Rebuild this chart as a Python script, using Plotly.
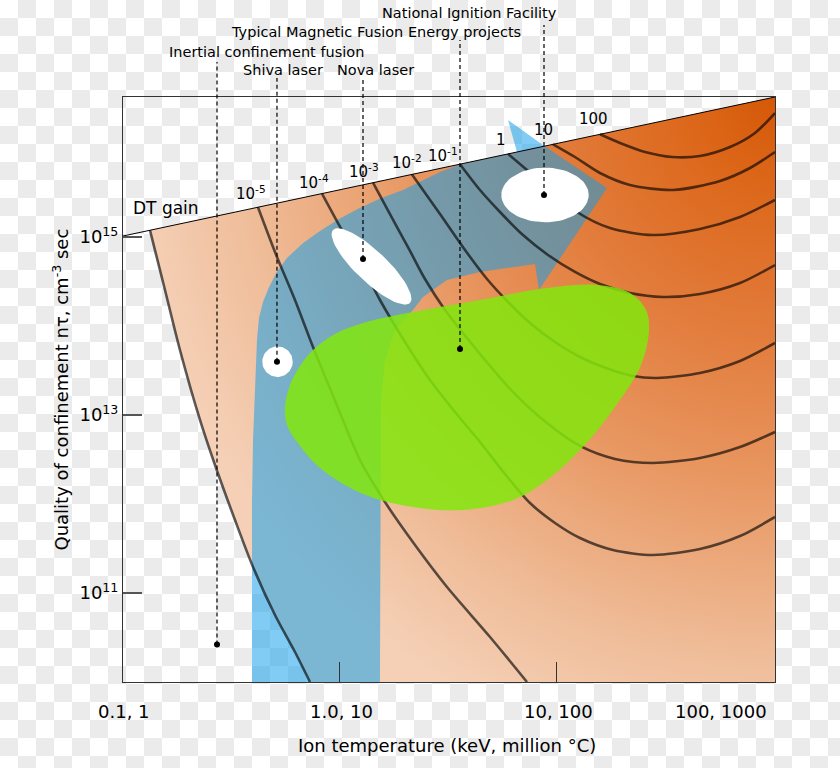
import base64
import numpy as np
import plotly.graph_objects as go

FONT = "DejaVu Sans"

# ---------------- axis ranges (log10 units) ----------------
X_RANGE = [-1.0046, 2.0139]    # ion temperature, keV
Y_RANGE = [10.0, 16.573]       # n*tau, cm^-3 s

# ---------------- data ----------------
# temperatures in keV, confinement given as log10(n*tau)
DT_GAIN_T = [0.0989, 103.25]
DT_GAIN_LOGNT = [15.011, 16.573]

EDGE_T = [0.1319, 0.1548, 0.1816, 0.2248, 0.2638, 0.3265, 0.3957, 0.5000, 0.6189, 0.7262]
EDGE_LOGNT = [15.076, 14.404, 13.730, 12.944, 12.438, 11.820, 11.292, 10.753, 10.337, 10.000]

BLUE_T = [0.3915, 0.3915, 0.3957, 0.4041, 0.4128, 0.4216, 0.4401, 0.4653, 0.5063, 0.5683,
          0.6752, 0.8082, 0.9896, 1.2088, 1.5165, 1.9573, 2.9040, 3.5938, 6.5988, 5.9948,
          8.8951, 17.224, 8.344, 7.9949, 4.4475, 3.1290, 2.4225, 2.1777, 1.7970, 1.6155,
          1.5476, 1.5311]
BLUE_LOGNT = [10.000, 12.045, 12.719, 13.393, 13.843, 14.090, 14.270, 14.416, 14.596, 14.764,
              14.933, 15.067, 15.202, 15.315, 15.427, 15.528, 15.730, 15.815, 15.955, 16.315,
              16.017, 15.551, 14.404, 14.697, 14.607, 14.517, 14.326, 14.180, 13.955, 13.618,
              13.169, 10.000]

GREEN_T = [0.5564, 0.5868, 0.6531, 0.7499, 0.9481, 1.2780, 2.1777, 4.4475, 9.0862, 15.480,
           22.012, 26.10, 26.95, 24.75, 18.755, 13.196, 9.0862, 6.3233, 3.7104, 2.1777,
           1.2780, 0.8082, 0.6323, 0.5683, 0.5564]
GREEN_LOGNT = [13.090, 13.337, 13.551, 13.730, 13.910, 14.034, 14.157, 14.292, 14.427, 14.461,
               14.371, 14.180, 13.955, 13.562, 13.090, 12.629, 12.270, 12.045, 11.933, 11.966,
               12.112, 12.404, 12.697, 12.888, 13.090]

# DT gain contours
Q5_T = [0.4172, 0.5108, 0.6189, 0.7499, 0.9583, 1.2373, 1.6155, 2.2245, 3.1290, 4.9492, 7.3410]
Q5_LOGNT = [15.335, 14.775, 14.292, 13.764, 13.135, 12.494, 12.022, 11.539, 11.067, 10.506, 10.000]

Q4_T = [0.8254, 0.9789, 1.2373, 1.5311, 2.000, 2.610, 3.408, 4.4475, 5.8066, 7.5798, 9.894,
        12.915, 18.363, 28.123, 46.416, 71.11, 103.25]
Q4_LOGNT = [15.488, 15.157, 14.719, 14.292, 13.820, 13.393, 13.034, 12.697, 12.337, 12.011, 11.787,
            11.618, 11.483, 11.427, 11.494, 11.640, 11.854]

Q3_T = [1.4219, 1.7035, 2.1093, 2.4746, 3.0627, 3.8723, 4.9492, 6.3233, 9.0862, 12.915, 18.755,
        28.123, 46.416, 71.11, 103.25]
Q3_LOGNT = [15.610, 15.258, 14.843, 14.528, 14.180, 13.865, 13.551, 13.258, 12.910, 12.652, 12.506,
            12.461, 12.517, 12.640, 12.809]

Q2_T = [2.1544, 2.9040, 3.7910, 4.7925, 6.1240, 7.5798, 9.894, 12.915, 17.042, 22.727, 29.346,
        46.416, 71.11, 103.25]
Q2_LOGNT = [15.703, 15.258, 14.854, 14.528, 14.247, 14.034, 13.820, 13.652, 13.528, 13.438, 13.416,
            13.472, 13.607, 13.809]

Q1_T = [3.5938, 4.4475, 5.5048, 7.0346, 9.1833, 12.246, 15.984, 22.012, 31.284, 46.416, 71.11, 103.25]
Q1_LOGNT = [15.818, 15.528, 15.281, 15.022, 14.798, 14.607, 14.472, 14.371, 14.326, 14.360, 14.483, 14.685]

QP0_T = [5.9948, 7.3410, 9.1833, 12.512, 17.783, 28.123, 46.416, 71.11, 103.25]
QP0_LOGNT = [15.934, 15.753, 15.551, 15.281, 15.101, 15.022, 15.090, 15.225, 15.416]

QP1_T = [9.6855, 12.246, 15.984, 22.012, 34.806, 57.440, 79.08, 103.25]
QP1_LOGNT = [16.042, 15.899, 15.719, 15.584, 15.528, 15.629, 15.775, 15.955]

QP2_T = [15.984, 19.788, 25.83, 34.435, 46.416, 63.91, 83.44, 103.25]
QP2_LOGNT = [16.154, 16.056, 15.955, 15.899, 15.910, 16.011, 16.169, 16.393]

CONTOURS_T = [EDGE_T, Q5_T, Q4_T, Q3_T, Q2_T, Q1_T, QP0_T, QP1_T, QP2_T]
CONTOURS_LOGNT = [EDGE_LOGNT, Q5_LOGNT, Q4_LOGNT, Q3_LOGNT, Q2_LOGNT, Q1_LOGNT, QP0_LOGNT, QP1_LOGNT, QP2_LOGNT]
CONTOUR_LABELS = ["10<sup>-5</sup>", "10<sup>-4</sup>", "10<sup>-3</sup>", "10<sup>-2</sup>",
                  "10<sup>-1</sup>", "1", "10", "100"]

# experiments: ellipses (centre keV, centre log n*tau, two half-axis vectors in decades)
NIF_ELL = [8.8951, 15.472, (0.2023, 0.0), (0.0, 0.3067)]
NOVA_ELL = [1.399, 14.669, (0.178, -0.410), (0.0494, 0.1264)]
SHIVA_ELL = [0.5136, 13.599, (0.0704, 0.0), (0.0, 0.172)]

FAC_NAMES = ["Inertial confinement fusion", "Shiva laser", "Nova laser",
             "Typical Magnetic Fusion Energy projects", "National Ignition Facility"]
FAC_T = [0.2695, 0.5108, 1.2780, 3.5938, 8.7998]
FAC_LOGNT = [10.421, 13.599, 14.753, 13.742, 15.472]

X_TICK_TEXT = ["0.1, 1", "1.0, 10", "10, 100", "100, 1000"]
Y_TICK_VALS = [1e11, 1e13, 1e15]
Y_TICK_TEXT = ["10<sup>11</sup>", "10<sup>13</sup>", "10<sup>15</sup>"]

# ---------------- helpers ----------------
def px(logx):
    return (logx - X_RANGE[0]) / (X_RANGE[1] - X_RANGE[0])

def py(logy):
    return (logy - Y_RANGE[0]) / (Y_RANGE[1] - Y_RANGE[0])

def pow10(a):
    return list(10 ** np.asarray(a, dtype=float))

fig = go.Figure()

# ---- orange region with radial gradient centred on the top-right corner ----
GRAD_RX, GRAD_RY = 3.01, 7.64   # decades (gradient radius)
cx, cy = X_RANGE[1], Y_RANGE[1]
ox = list(EDGE_T) + [10 ** (cx - GRAD_RX), 10 ** (cx + GRAD_RX), 10 ** (cx + GRAD_RX), 10 ** cx, 10 ** cx]
oy = list(10 ** np.array(EDGE_LOGNT)) + [10 ** (cy - GRAD_RY), 10 ** (cy - GRAD_RY), 10 ** (cy + GRAD_RY),
                                         10 ** (cy + GRAD_RY), 10 ** cy]
fig.add_trace(go.Scatter(
    x=ox, y=oy, mode="lines", line=dict(width=0, simplify=False), fill="toself",
    fillgradient=dict(type="radial", colorscale=[
        [0.0, "rgb(212,88,8)"], [0.12, "rgb(220,102,24)"], [0.35, "rgb(226,124,60)"],
        [0.56, "rgb(232,150,96)"], [0.82, "rgb(239,188,152)"], [0.97, "rgb(244,205,178)"],
        [1.0, "rgb(245,208,182)"]]),
    hoverinfo="skip", showlegend=False))

# ---- blue (magnetic confinement) region ----
fig.add_trace(go.Scatter(
    x=BLUE_T, y=pow10(BLUE_LOGNT), mode="lines", line=dict(width=0), fill="toself",
    fillcolor="rgba(15,158,236,0.53)", hoverinfo="skip", showlegend=False))

# ---- gain contours ----
for ct, cn in zip(CONTOURS_T, CONTOURS_LOGNT):
    fig.add_trace(go.Scatter(
        x=ct, y=pow10(cn), mode="lines",
        line=dict(color="rgba(0,0,0,0.63)", width=2.6, shape="spline", smoothing=0.8),
        hoverinfo="skip", showlegend=False))

# ---- green (inertial confinement) region ----
fig.add_trace(go.Scatter(
    x=GREEN_T, y=pow10(GREEN_LOGNT), mode="lines", line=dict(width=0, shape="spline", smoothing=1.0),
    fill="toself", fillcolor="rgba(130,230,13,0.86)", hoverinfo="skip", showlegend=False))

# ---- white ellipses of the experiments ----
tt = np.linspace(0, 2 * np.pi, 73)
for c_t, c_n, a, b in [NIF_ELL, NOVA_ELL, SHIVA_ELL]:
    lx = np.log10(c_t) + a[0] * np.cos(tt) + b[0] * np.sin(tt)
    ly = c_n + a[1] * np.cos(tt) + b[1] * np.sin(tt)
    fig.add_trace(go.Scatter(x=10 ** lx, y=10 ** ly, mode="lines", line=dict(width=0),
                             fill="toself", fillcolor="white", hoverinfo="skip", showlegend=False))

# ---- DT gain boundary line ----
fig.add_trace(go.Scatter(x=DT_GAIN_T, y=pow10(DT_GAIN_LOGNT), mode="lines",
                         line=dict(color="black", width=1), hoverinfo="skip", showlegend=False))

# ---- experiment markers ----
fig.add_trace(go.Scatter(x=FAC_T, y=pow10(FAC_LOGNT), mode="markers",
                         marker=dict(color="black", size=6), cliponaxis=False,
                         hoverinfo="skip", showlegend=False))

# ---------------- annotations / shapes ----------------
annotations = []
shapes = []

LABEL_TOP = [1.0598, 1.0325, 1.0325, 1.0974, 1.1231]         # paper y where dashes end
LABEL_POS = [(0.2201, 1.0764), (0.2454, 1.0462), (0.3871, 1.0462), (0.3874, 1.1106), (0.5321, 1.1436)]
for name, t, n, top, (lx_, ly_) in zip(FAC_NAMES, FAC_T, FAC_LOGNT, LABEL_TOP, LABEL_POS):
    xp = px(np.log10(t))
    shapes.append(dict(type="line", xref="paper", yref="paper", x0=xp, x1=xp, y0=py(n), y1=top,
                       line=dict(color="black", width=1.2, dash="4px,3px")))
    annotations.append(dict(text=name, xref="paper", yref="paper", x=lx_, y=ly_, showarrow=False,
                            xanchor="center", yanchor="middle",
                            font=dict(family=FONT, size=14.5, color="black")))

CONTOUR_LABEL_POS = [(0.1963, 0.8359), (0.2929, 0.8547), (0.3696, 0.8735), (0.4356, 0.8889),
                     (0.4908, 0.9009), (0.5798, 0.9265), (0.6457, 0.9436), (0.7209, 0.9624)]
for lab, (xx, yy) in zip(CONTOUR_LABELS, CONTOUR_LABEL_POS):
    annotations.append(dict(text=lab, xref="paper", yref="paper", x=xx, y=yy, showarrow=False,
                            xanchor="center", yanchor="middle",
                            font=dict(family=FONT, size=15, color="black")))

annotations.append(dict(text="DT gain", xref="paper", yref="paper", x=0.0660, y=0.8103, showarrow=False,
                        xanchor="center", yanchor="middle", font=dict(family=FONT, size=17, color="black")))

X_TICK_POS = [0.0015, 0.3344, 0.6672, 0.9172]
for lab, xx in zip(X_TICK_TEXT, X_TICK_POS):
    annotations.append(dict(text=lab, xref="paper", yref="paper", x=xx, y=-0.0496, showarrow=False,
                            xanchor="center", yanchor="middle", font=dict(family=FONT, size=18, color="black")))

annotations.append(dict(text="Ion temperature (keV, million °C)", xref="paper", yref="paper",
                        x=0.497, y=-0.1094, showarrow=False, xanchor="center", yanchor="middle",
                        font=dict(family=FONT, size=18, color="black")))
annotations.append(dict(text="Quality of confinement nτ, cm<sup>-3</sup> sec", xref="paper", yref="paper",
                        x=-0.0966, y=0.5, showarrow=False, xanchor="center", yanchor="middle",
                        textangle=-90, font=dict(family=FONT, size=18, color="black")))

# checkerboard "transparent" background
svg = ("<svg xmlns='http://www.w3.org/2000/svg' width='840' height='768'>"
       "<defs><pattern id='c' width='36' height='36' patternUnits='userSpaceOnUse'>"
       "<rect width='36' height='36' fill='#ffffff'/>"
       "<rect x='18' y='0' width='18' height='18' fill='#ebebeb'/>"
       "<rect x='0' y='18' width='18' height='18' fill='#ebebeb'/>"
       "</pattern></defs><rect width='840' height='768' fill='url(#c)'/></svg>")
src = "data:image/svg+xml;base64," + base64.b64encode(svg.encode()).decode()

fig.update_layout(
    width=840, height=768,
    margin=dict(l=123, r=65, t=97, b=86),
    paper_bgcolor="white", plot_bgcolor="rgba(0,0,0,0)",
    font=dict(family=FONT, color="black"),
    images=[dict(source=src, xref="paper", yref="paper", x=-123 / 652, y=682 / 585,
                 sizex=840 / 652, sizey=768 / 585, xanchor="left", yanchor="top",
                 sizing="stretch", layer="below")],
    annotations=annotations, shapes=shapes,
    xaxis=dict(type="log", range=X_RANGE, showgrid=False, zeroline=False, showline=True, mirror=True,
               linecolor="#333", linewidth=1, ticks="inside", ticklen=20, tickcolor="#333", tickwidth=1,
               tickvals=[1, 10], showticklabels=False),
    yaxis=dict(type="log", range=Y_RANGE, showgrid=False, zeroline=False, showline=True, mirror=True,
               linecolor="#333", linewidth=1, ticks="inside", ticklen=19, tickcolor="#555", tickwidth=1.5,
               tickvals=Y_TICK_VALS, ticktext=Y_TICK_TEXT,
               tickfont=dict(family=FONT, size=18, color="black")),
)

fig.write_html("out.html", config={"displayModeBar": False},
               post_script="document.body.style.margin='0px';document.body.style.overflow='hidden';")
